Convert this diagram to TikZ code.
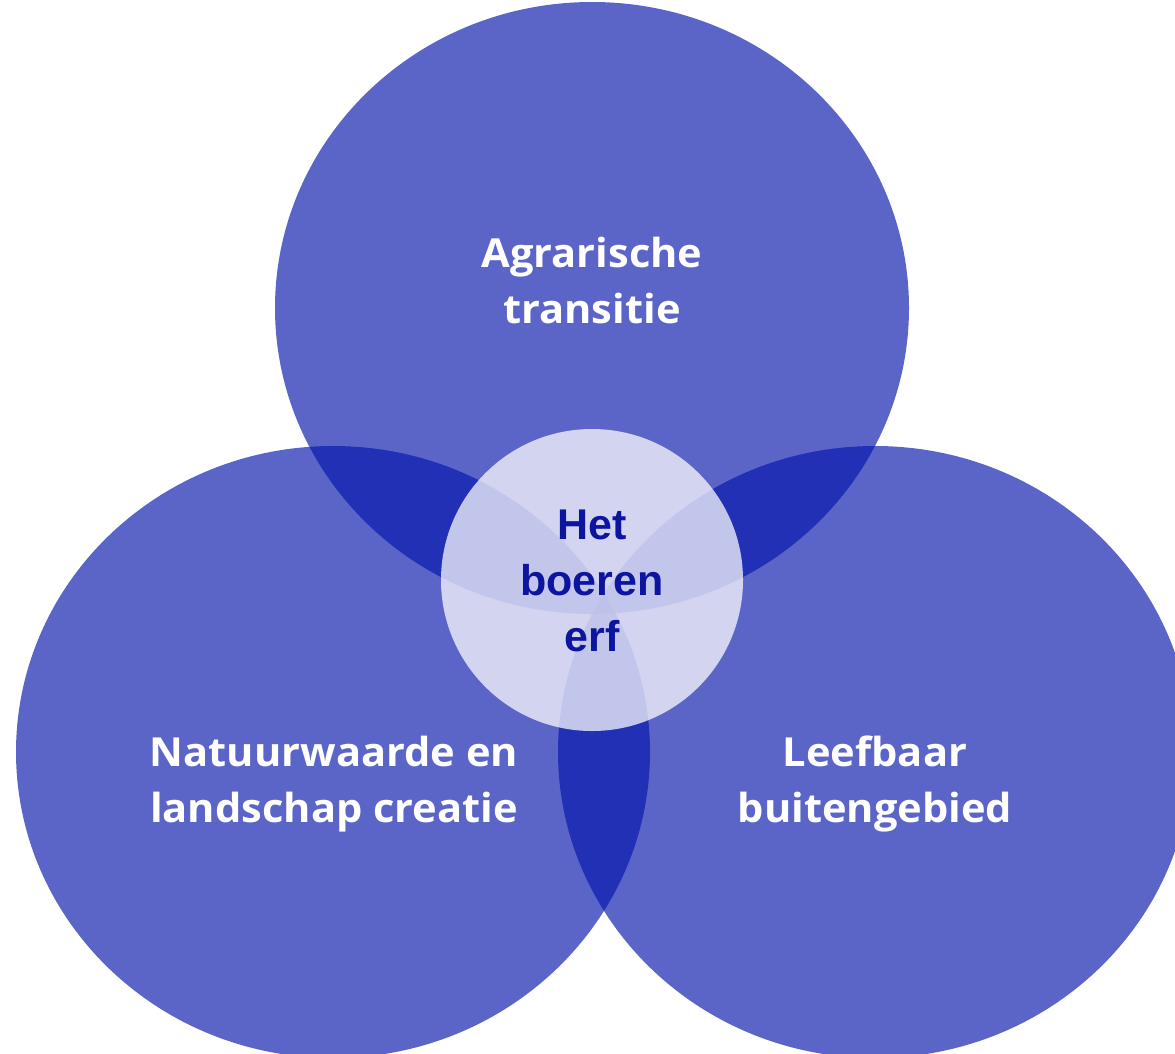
\documentclass[tikz,border=0pt]{standalone}
\usepackage{fontspec}
\setmainfont[FakeStretch=1.04]{Open Sans}
\newfontfamily\hartfont{Liberation Sans}
\definecolor{venn}{RGB}{5,20,171}
\definecolor{hartblauw}{RGB}{12,20,160}
\begin{document}
\begin{tikzpicture}[x=1pt,y=-1pt,
  vennset/.style={fill=venn,fill opacity=0.655,draw=none},
  hart/.style={fill=white,fill opacity=0.73,draw=none},
  lbl/.style={text=white,align=center,anchor=base,font=\fontsize{40}{56}\selectfont\bfseries,inner sep=0pt},
  hartlbl/.style={text=hartblauw,align=center,anchor=base,font=\hartfont\fontsize{43}{56}\selectfont\bfseries,inner sep=0pt}]
\useasboundingbox (0,0) rectangle (1175,1053);
\begin{scope}
\clip (0,0) rectangle (1175,1053);
\fill[vennset] (592,308) ellipse [x radius=317,y radius=306];
\fill[vennset] (333,752) ellipse [x radius=317,y radius=306];
\fill[vennset] (875,752) ellipse [x radius=317,y radius=306];
\fill[hart] (592,580) circle [radius=151];
\end{scope}
\node[lbl] (agr) at (592,323) {Agrarische\\transitie};
\node[lbl] (nat) at (334,822) {Natuurwaarde en\\landschap creatie};
\node[lbl] (lee) at (875,822) {Leefbaar\\buitengebied};
\node[hartlbl] (erf) at (592,651) {Het\\boeren\\erf};
\end{tikzpicture}
\end{document}
